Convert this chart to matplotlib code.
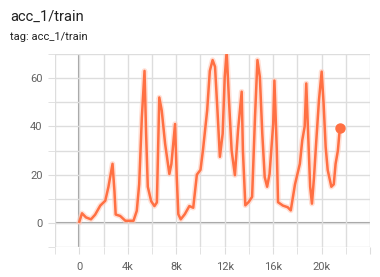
import numpy as np
import matplotlib
matplotlib.use('Agg')
import matplotlib.pyplot as plt
from matplotlib.ticker import MultipleLocator, FuncFormatter

plt.rcParams['font.family'] = ['Roboto', 'DejaVu Sans']

# stappen (k) en waarden
stap_k = [0.0, 0.22, 0.55, 0.96, 1.3, 1.73, 2.14, 2.4, 2.74, 2.9, 3.0, 3.37, 3.8, 4.47,
          4.74, 4.94, 5.16, 5.38, 5.51, 5.65, 5.93, 6.2, 6.4, 6.6, 6.8, 7.08, 7.43, 7.6,
          7.9, 8.04, 8.17, 8.37, 8.7, 9.08, 9.4, 9.7, 10.0, 10.2, 10.55, 10.77, 11.0,
          11.2, 11.4, 11.6, 11.83, 12.0, 12.16, 12.35, 12.57, 12.84, 13.1, 13.4, 13.5,
          13.7, 13.98, 14.26, 14.5, 14.7, 14.9, 15.1, 15.3, 15.5, 15.7, 16.0, 16.1,
          16.3, 16.4, 16.8, 17.2, 17.45, 17.8, 18.2, 18.4, 18.6, 18.73, 18.86, 19.05,
          19.2, 19.37, 19.56, 19.78, 20.0, 20.16, 20.33, 20.5, 20.8, 21.0, 21.15,
          21.34, 21.5]
acc = [0.5, 4.0, 2.3, 1.5, 3.4, 7.2, 9.2, 14.9, 24.5, 13.0, 3.5, 2.9, 0.9, 0.9,
       5.0, 16.0, 43.8, 63.0, 37.0, 15.0, 9.0, 7.0, 8.5, 52.0, 46.6, 32.8, 20.3, 24.5,
       41.0, 19.0, 3.6, 1.5, 3.6, 7.0, 6.3, 20.0, 22.0, 30.0, 46.6, 63.0, 67.5,
       64.7, 46.6, 27.4, 37.0, 60.5, 71.0, 50.9, 30.0, 19.8, 38.5, 54.4, 30.0,
       7.3, 8.7, 10.8, 44.0, 67.5, 60.5, 37.0, 19.0, 15.0, 20.3, 41.0, 59.0,
       30.0, 8.6, 7.2, 6.5, 5.2, 16.0, 24.5, 34.3, 40.0, 57.8, 40.0, 15.0,
       8.0, 19.0, 34.3, 51.0, 62.7, 49.5, 31.5, 21.9, 15.0, 16.0, 24.5,
       30.0, 39.2]

stap = np.array(stap_k) * 1000


def k_label(v, pos):
    if v == 0:
        return '0'
    if v < 0 or v >= 24000:
        return ''
    return '%dk' % (v / 1000)


fig = plt.figure(figsize=(3.8, 2.77), dpi=100)
ax = fig.add_axes([0.145, 0.108, 0.829, 0.697])

lijnkleur = '#ff7043'
ax.plot(stap, acc, color='#ffccbc', lw=4, alpha=0.6, zorder=2)
ax.plot(stap, acc, color=lijnkleur, lw=1.8, zorder=3)
ax.plot(stap[-1], acc[-1], 'o', color=lijnkleur, ms=6.5, zorder=4)

ax.set_xlim(-2000, 24000)
ax.set_ylim(-10, 70)
ax.xaxis.set_major_locator(MultipleLocator(4000))
ax.xaxis.set_minor_locator(MultipleLocator(2000))
ax.yaxis.set_major_locator(MultipleLocator(20))
ax.yaxis.set_minor_locator(MultipleLocator(10))
ax.xaxis.set_major_formatter(FuncFormatter(k_label))
ax.grid(True, which='both', color='#dddddd', lw=1, zorder=0)
ax.axhline(0, color='#9e9e9e', lw=1.5, zorder=1)
ax.axvline(0, color='#9e9e9e', lw=1.5, zorder=1)
for s in ax.spines.values():
    s.set_visible(False)
ax.tick_params(which='both', length=5, color='#dddddd', labelsize=8, labelcolor='#616161')
ax.tick_params(axis='x', pad=6)
ax.tick_params(axis='y', pad=4)

fig.text(0.026, 0.925, 'acc_1/train', fontsize=10.5, color='#212121')
fig.text(0.026, 0.855, 'tag: acc_1/train', fontsize=8, color='#212121')

fig.savefig('out.png', dpi=100)
